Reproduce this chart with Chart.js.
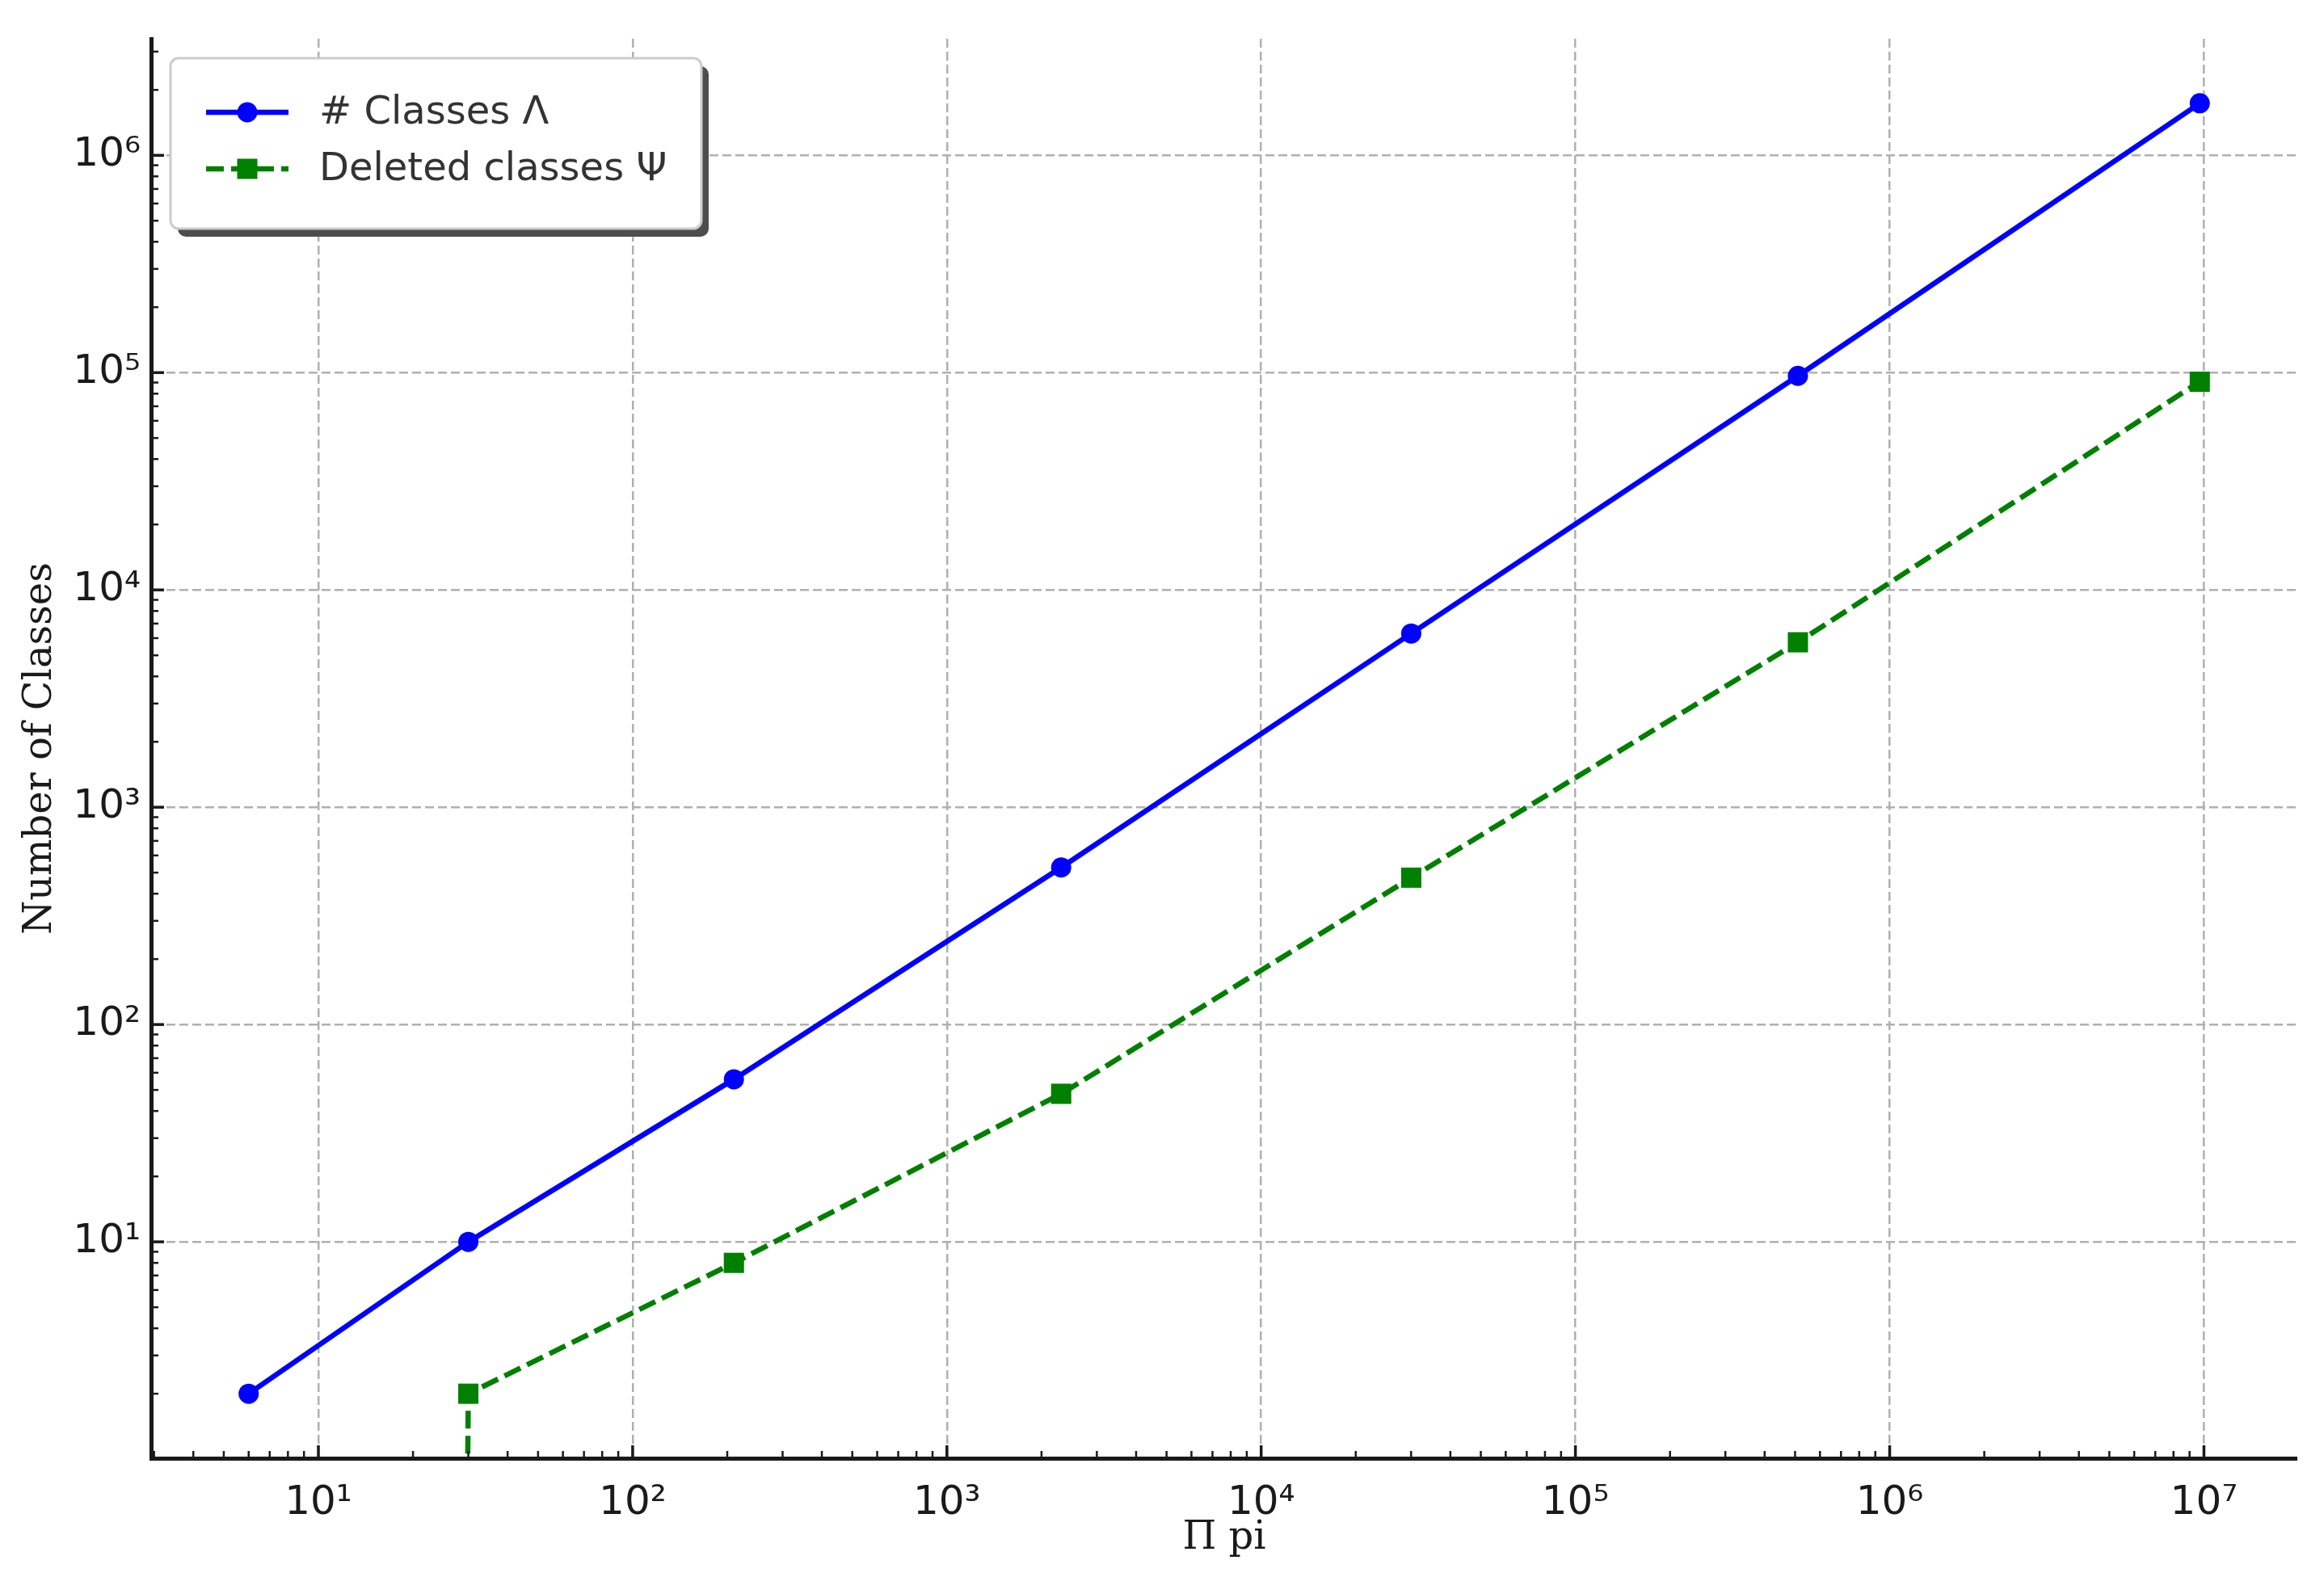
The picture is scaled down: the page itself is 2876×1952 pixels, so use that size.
<!DOCTYPE html>
<html>
<head>
<meta charset="utf-8">
<script src="https://cdn.jsdelivr.net/npm/chart.js@4/dist/chart.umd.min.js"></script>
<style>
  html, body { margin: 0; padding: 0; background: #fff; }
</style>
</head>
<body>
<canvas id="myChart" width="2876" height="1952"></canvas>
<script>
// x values: products of the first primes (2, 2*3, 2*3*5, ...)
const primorials = [6, 30, 210, 2310, 30030, 510510, 9699690];
const classes = [2, 10, 56, 528, 6300, 96600, 1735000];
const deletedClasses = [0, 2, 8, 48, 474, 5740, 90800];

const xTickValues = [10, 100, 1000, 10000, 100000, 1000000, 10000000];
const xTickLabels = ['10¹', '10²', '10³', '10⁴', '10⁵', '10⁶', '10⁷'];
const yTickValues = [10, 100, 1000, 10000, 100000, 1000000];
const yTickLabels = ['10¹', '10²', '10³', '10⁴', '10⁵', '10⁶'];

const TICK_COLOR = '#1a1a1a';

// matplotlib style autoscale: 5% margin in log space
function logLimits(values) {
    const logs = values.filter(v => v > 0).map(v => Math.log10(v));
    const lo = Math.min(...logs), hi = Math.max(...logs);
    const pad = (hi - lo) * 0.05;
    return [Math.pow(10, lo - pad), Math.pow(10, hi + pad)];
}

const [xMin, xMax] = logLimits(primorials);
const [yMin, yMax] = logLimits(classes.concat(deletedClasses));

// 1..9 x 10^n ticks, majors on the powers of ten
function decadeTicks(scale) {
    const ticks = [];
    const e0 = Math.floor(Math.log10(scale.min));
    const e1 = Math.ceil(Math.log10(scale.max));
    for (let e = e0; e <= e1; e++) {
        for (let m = 1; m <= 9; m++) {
            const v = m * Math.pow(10, e);
            if (v >= scale.min && v <= scale.max) {
                ticks.push({ value: v, major: m === 1 });
            }
        }
    }
    scale.ticks = ticks;
}

function labelFor(values, labels) {
    return function (value) {
        const i = values.findIndex(v => Math.abs(v - value) / v < 1e-9);
        return i >= 0 ? labels[i] : '';
    };
}

// inward tick marks like matplotlib
const innerTicks = {
    id: 'innerTicks',
    afterDraw(chart) {
        const ctx = chart.ctx;
        const area = chart.chartArea;
        ctx.save();
        ctx.strokeStyle = TICK_COLOR;
        chart.scales.x.ticks.forEach(t => {
            const px = chart.scales.x.getPixelForValue(t.value);
            ctx.lineWidth = t.major ? 3.5 : 2.5;
            ctx.beginPath();
            ctx.moveTo(px, area.bottom);
            ctx.lineTo(px, area.bottom - (t.major ? 16 : 9));
            ctx.stroke();
        });
        chart.scales.y.ticks.forEach(t => {
            const py = chart.scales.y.getPixelForValue(t.value);
            ctx.lineWidth = t.major ? 3.5 : 2.5;
            ctx.beginPath();
            ctx.moveTo(area.left, py);
            ctx.lineTo(area.left + (t.major ? 16 : 9), py);
            ctx.stroke();
        });
        ctx.restore();
    }
};

// legend box with shadow, line + marker handles
const boxLegend = {
    id: 'boxLegend',
    afterDraw(chart) {
        const ctx = chart.ctx;
        const area = chart.chartArea;
        const x = area.left + 24, y = area.top + 24, w = 657, h = 211, r = 10;
        const rounded = (ox, oy) => {
            ctx.beginPath();
            ctx.roundRect(x + ox, y + oy, w, h, r);
        };
        ctx.save();
        ctx.fillStyle = '#4d4d4d';
        rounded(9, 10);
        ctx.fill();
        ctx.fillStyle = '#ffffff';
        ctx.strokeStyle = '#cccccc';
        ctx.lineWidth = 3;
        rounded(0, 0);
        ctx.fill();
        ctx.stroke();

        chart.data.datasets.forEach((ds, i) => {
            const rowY = y + 67 + i * 70;
            const x0 = x + 44, x1 = x + 146, mx = (x0 + x1) / 2;
            ctx.strokeStyle = ds.borderColor;
            ctx.lineWidth = ds.borderWidth;
            ctx.setLineDash(ds.borderDash || []);
            ctx.beginPath();
            ctx.moveTo(x0, rowY);
            ctx.lineTo(x1, rowY);
            ctx.stroke();
            ctx.setLineDash([]);
            ctx.fillStyle = ds.backgroundColor;
            if (ds.pointStyle === 'rect') {
                const s = ds.pointRadius * Math.SQRT1_2;
                ctx.fillRect(mx - s, rowY - s, 2 * s, 2 * s);
            } else {
                ctx.beginPath();
                ctx.arc(mx, rowY, ds.pointRadius, 0, Math.PI * 2);
                ctx.fill();
            }
            ctx.fillStyle = '#333333';
            ctx.font = '48px "DejaVu Sans"';
            ctx.textBaseline = 'middle';
            ctx.textAlign = 'left';
            ctx.fillText(ds.label, x + 184, rowY + 2);
        });
        ctx.restore();
    }
};

new Chart(document.getElementById('myChart'), {
    type: 'line',
    data: {
        datasets: [{
            label: '# Classes Λ',
            data: primorials.map((x, i) => ({ x: x, y: classes[i] })),
            borderColor: '#0000ff',
            backgroundColor: '#0000ff',
            borderWidth: 6.5,
            pointStyle: 'circle',
            pointRadius: 12.5,
            pointBorderWidth: 0,
            tension: 0,
            fill: false
        }, {
            label: 'Deleted classes Ψ',
            // zero is clipped far below the axis, as a log plot does
            data: primorials.map((x, i) => ({ x: x, y: deletedClasses[i] > 0 ? deletedClasses[i] : 1e-300 })),
            borderColor: '#008000',
            backgroundColor: '#008000',
            borderWidth: 6.5,
            borderDash: [22, 9],
            pointStyle: 'rect',
            pointRadius: 17.7,
            pointBorderWidth: 0,
            tension: 0,
            fill: false
        }]
    },
    options: {
        responsive: false,
        devicePixelRatio: 1,
        animation: false,
        events: [],
        layout: { padding: { left: 0, right: 33, top: 48, bottom: 0 } },
        plugins: {
            legend: { display: false },
            tooltip: { enabled: false }
        },
        scales: {
            x: {
                type: 'logarithmic',
                min: xMin,
                max: xMax,
                afterBuildTicks: decadeTicks,
                afterFit: (scale) => { scale.height = 147; },
                grid: {
                    drawTicks: false,
                    color: '#b0b0b0',
                    lineWidth: (c) => (c.tick && c.tick.major ? 2.5 : 0)
                },
                border: { display: true, color: TICK_COLOR, width: 5, dash: [11, 5] },
                ticks: {
                    autoSkip: false,
                    maxRotation: 0,
                    padding: 26,
                    color: TICK_COLOR,
                    font: { family: 'DejaVu Sans', size: 50 },
                    callback: labelFor(xTickValues, xTickLabels)
                },
                title: {
                    display: true,
                    text: 'Π pi',
                    color: TICK_COLOR,
                    font: { family: 'DejaVu Serif', size: 48 },
                    padding: { top: 0, bottom: 19 }
                }
            },
            y: {
                type: 'logarithmic',
                min: yMin,
                max: yMax,
                afterBuildTicks: decadeTicks,
                afterFit: (scale) => { scale.width = 187; },
                grid: {
                    drawTicks: false,
                    color: '#b0b0b0',
                    lineWidth: (c) => (c.tick && c.tick.major ? 2.5 : 0)
                },
                border: { display: true, color: TICK_COLOR, width: 5, dash: [11, 5] },
                ticks: {
                    autoSkip: false,
                    padding: 13,
                    color: TICK_COLOR,
                    font: { family: 'DejaVu Sans', size: 50 },
                    callback: labelFor(yTickValues, yTickLabels)
                },
                title: {
                    display: true,
                    text: 'Number of Classes',
                    color: TICK_COLOR,
                    font: { family: 'DejaVu Serif', size: 48 },
                    padding: { top: 22, bottom: 0 }
                }
            }
        }
    },
    plugins: [innerTicks, boxLegend]
});
</script>
</body>
</html>
